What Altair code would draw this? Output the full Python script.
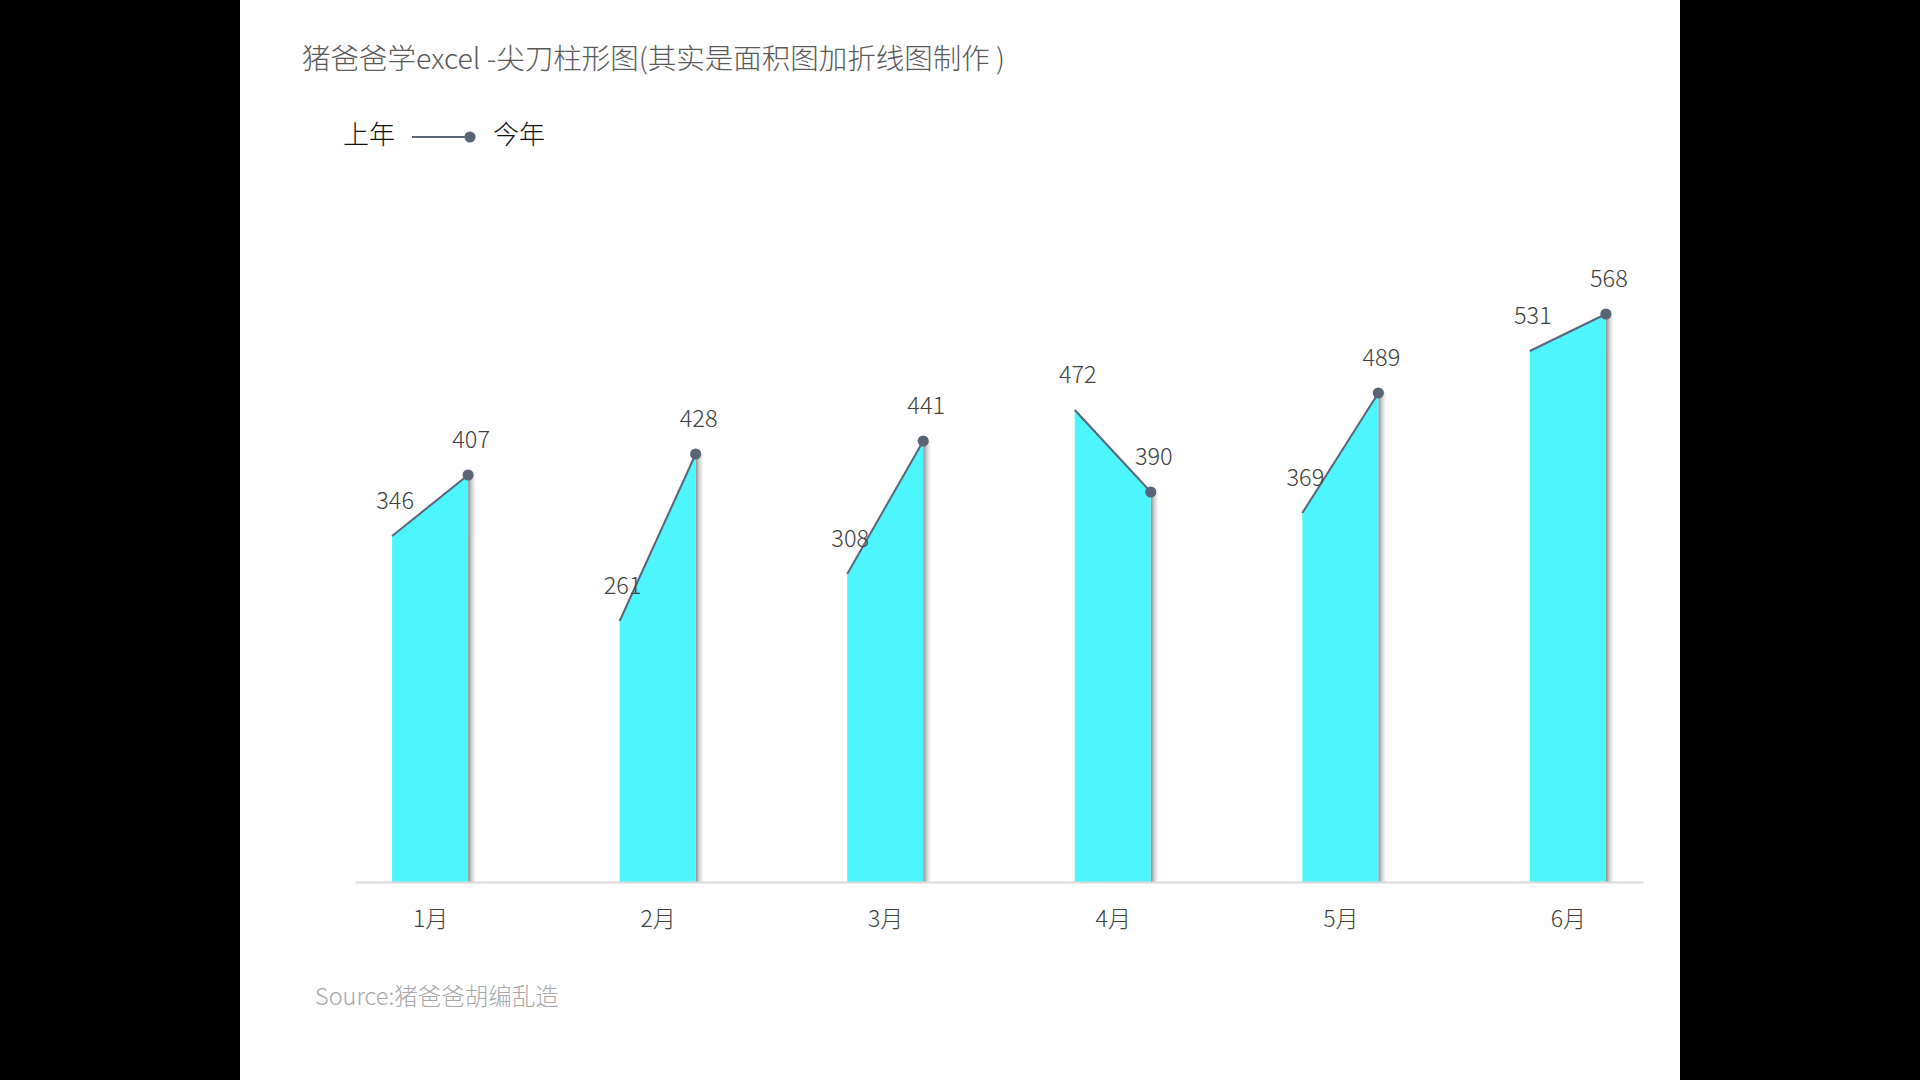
import altair as alt
import pandas as pd

months = ["1月", "2月", "3月", "4月", "5月", "6月"]
last_year = [346, 261, 308, 472, 369, 531]
this_year = [407, 428, 441, 390, 489, 568]
TITLE = "猪爸爸学excel -尖刀柱形图(其实是面积图加折线图制作 )"
SOURCE = "Source:猪爸爸胡编乱造"
LEGEND = ["上年", "今年"]

FONT = "Noto Sans CJK SC"
CYAN = "#4DF6FC"
SLATE = "#5B6477"
HW = 0.167      # half width of each spike, in category units
SHADOW = 0.034  # shadow width, in category units

rows = []
for i, (m, a, b) in enumerate(zip(months, last_year, this_year)):
    rows.append({"m": m, "x": i - HW, "v": a})
    rows.append({"m": m, "x": i + HW, "v": b})
df = pd.DataFrame(rows)

tops = pd.DataFrame({"m": months, "i": list(range(len(months))),
                     "last": last_year, "this": this_year})
tops["xl"] = tops["i"] - HW
tops["xr"] = tops["i"] + HW
tops["xs"] = tops["xr"] + SHADOW

label_expr = "[" + ",".join("'%s'" % m for m in months) + "][datum.value]"
xscale = alt.Scale(domain=[-0.33, 5.33], nice=False, zero=False)
xaxis = alt.Axis(values=list(range(len(months))), labelExpr=label_expr, title=None,
                 ticks=False, grid=False, domainColor="#d9d9d9", domainWidth=2,
                 labelFontSize=23, labelColor="#404040", labelFont=FONT,
                 labelFontWeight=300,
                 labelPadding=37, labelBaseline="middle", zindex=1)
yscale = alt.Scale(domain=[0, 600], nice=False)


def X(field):
    return alt.X(field, type="quantitative", scale=xscale, axis=xaxis)


def Y(field):
    return alt.Y(field, type="quantitative", scale=yscale, axis=None, stack=None)


one = pd.DataFrame({"k": [0]})

panel = alt.Chart(one).mark_rect(color="white").encode(
    x=alt.value(-115), x2=alt.value(1325), y=alt.value(-282), y2=alt.value(798))

shadow = alt.Chart(tops).mark_rect(
    color=alt.LinearGradient(gradient="linear",
                             stops=[alt.GradientStop(color="#8c8c8c", offset=0),
                                    alt.GradientStop(color="#d0d0d0", offset=0.45),
                                    alt.GradientStop(color="#ffffff", offset=1)],
                             x1=0, x2=1, y1=0, y2=0)
).encode(x=X("xr"), x2="xs", y=Y("this"), y2=alt.Y2(datum=0))

area = alt.Chart(df).mark_area(color=CYAN, opacity=1).encode(
    x=X("x"), y=Y("v"), detail="m:N")

line = alt.Chart(df).mark_line(color=SLATE, strokeWidth=2).encode(
    x=X("x"), y=Y("v"), detail="m:N")

pts = alt.Chart(tops).mark_circle(color=SLATE, size=125, opacity=1).encode(
    x=X("xr"), y=Y("this"))

lab_last = alt.Chart(tops).mark_text(dx=3, dy=-34, fontSize=23.5, fontWeight=300,
                                     color="#404040", font=FONT).encode(
    x=X("xl"), y=Y("last"), text="last:Q")
lab_this = alt.Chart(tops).mark_text(dx=3, dy=-34, fontSize=23.5, fontWeight=300,
                                     color="#404040", font=FONT).encode(
    x=X("xr"), y=Y("this"), text="this:Q")

title = alt.Chart(one).mark_text(align="left", baseline="middle", fontSize=28.5,
                                 fontWeight=300, color="#595959", font=FONT).encode(
    x=alt.value(-53), y=alt.value(-222), text=alt.value(TITLE))

src = alt.Chart(one).mark_text(align="left", baseline="middle", fontSize=23.5,
                               fontWeight=300, color="#a6a6a6", font=FONT).encode(
    x=alt.value(-40), y=alt.value(716), text=alt.value(SOURCE))

leg1 = alt.Chart(one).mark_text(align="left", baseline="middle", fontSize=26,
                                fontWeight=300, color="#111111", font=FONT).encode(
    x=alt.value(-12), y=alt.value(-146), text=alt.value(LEGEND[0]))
leg2 = alt.Chart(one).mark_text(align="left", baseline="middle", fontSize=26,
                                fontWeight=300, color="#111111", font=FONT).encode(
    x=alt.value(138), y=alt.value(-146), text=alt.value(LEGEND[1]))
leg_line = alt.Chart(one).mark_rule(color=SLATE, strokeWidth=2).encode(
    x=alt.value(57), x2=alt.value(115), y=alt.value(-145))
leg_pt = alt.Chart(one).mark_circle(color=SLATE, size=125, opacity=1).encode(
    x=alt.value(115), y=alt.value(-145))

chart = alt.layer(
    panel, shadow, area, line, pts, lab_last, lab_this,
    title, src, leg1, leg2, leg_line, leg_pt
).properties(
    width=1288, height=600,
    padding={"left": 355, "top": 282, "right": 277, "bottom": 198},
    autosize=alt.AutoSizeParams(type="none"),
    background="#000000",
).configure_view(stroke=None)

chart.save("out.html", embed_options={"renderer": "svg", "actions": False})
